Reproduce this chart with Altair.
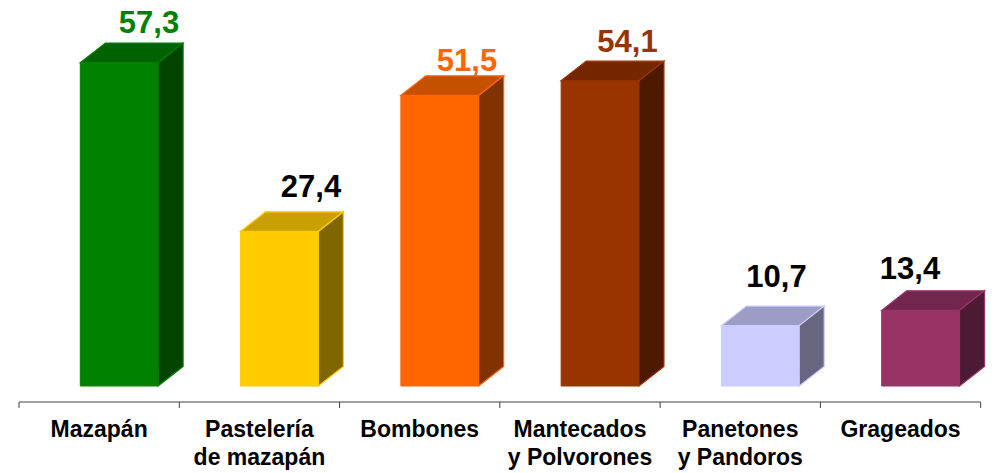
import altair as alt
import pandas as pd

# ---------------- data ----------------
categories = ["Mazapán", "Pastelería\nde mazapán", "Bombones",
              "Mantecados\ny Polvorones", "Panetones\ny Pandoros", "Grageados"]
values = [57.3, 27.4, 51.5, 54.1, 10.7, 13.4]
value_labels = ["57,3", "27,4", "51,5", "54,1", "10,7", "13,4"]

front_colors = ["#008000", "#FFCC00", "#FF6600", "#993300", "#CCCCFF", "#993366"]
top_colors = ["#006200", "#C8A000", "#C45000", "#732600", "#9C9CC4", "#73264D"]
side_colors = ["#004400", "#806600", "#803300", "#4D1A00", "#666680", "#4D1A33"]
label_colors = ["#008000", "#000000", "#FF6600", "#993300", "#000000", "#000000"]

# ---------------- layout (pixels) ----------------
W, H = 980, 465
SLOT = 160.28        # px per category slot
X0 = 11.0            # plot-x of first slot boundary
BASE = 378.0         # plot-y of bar base
PXU = 5.642          # px per value unit
FRONT_OFF = 61.3 / SLOT
FRONT_W = 77.8 / SLOT
DX = 25.0 / SLOT
DY = 19.6 / PXU
AXIS_Y = 394         # plot-y of the axis line
TICK_LEN = 6
CAT_Y = 428.5
LABEL_DX_PX = [29.8, 31.5, 27.2, 27.5, 16.2, -10.6]
LABEL_GAP_PX = [10.0, 15.0, 4.6, 9.5, 19.3, 12.0]

n = len(categories)
rows_front, rows_top, rows_side, rows_lab = [], [], [], []
for i in range(n):
    L = i + FRONT_OFF
    R = L + FRONT_W
    v = values[i]
    rows_front.append(dict(cat=i, x=L, x2=R, y=0.0, y2=v, c=front_colors[i]))
    rows_top.append(dict(cat=i, yy=v, xa=L, xb=R, f=top_colors[i], s=front_colors[i]))
    rows_top.append(dict(cat=i, yy=v + DY, xa=L + DX, xb=R + DX, f=top_colors[i], s=front_colors[i]))
    rows_side.append(dict(cat=i, xx=R, ya=0.0, yb=v, f=side_colors[i], s=front_colors[i]))
    rows_side.append(dict(cat=i, xx=R + DX, ya=DY, yb=v + DY, f=side_colors[i], s=front_colors[i]))
    rows_lab.append(dict(cat=i, lx=(L + R) / 2 + LABEL_DX_PX[i] / SLOT,
                         ly=v + DY + LABEL_GAP_PX[i] / PXU,
                         t=value_labels[i], c=label_colors[i]))

df_front = pd.DataFrame(rows_front)
df_top = pd.DataFrame(rows_top)
df_side = pd.DataFrame(rows_side)
df_lab = pd.DataFrame(rows_lab)
df_cat = pd.DataFrame(dict(cx=[i + 0.5 for i in range(n)], t=categories))
df_ticks = pd.DataFrame(dict(bx=[float(i) for i in range(n + 1)]))

xs = alt.Scale(domain=[-X0 / SLOT, (W - X0) / SLOT], nice=False, zero=False)
ys = alt.Scale(domain=[(BASE - H) / PXU, BASE / PXU], nice=False, zero=False)

front = alt.Chart(df_front).mark_rect(strokeWidth=1).encode(
    x=alt.X("x:Q", scale=xs, axis=None),
    x2="x2:Q",
    y=alt.Y("y:Q", scale=ys, axis=None),
    y2="y2:Q",
    fill=alt.Fill("c:N", scale=None),
    stroke=alt.Stroke("c:N", scale=None),
)

top = alt.Chart(df_top).mark_area(orient="horizontal", strokeWidth=1.2).encode(
    y=alt.Y("yy:Q", scale=ys, axis=None),
    x=alt.X("xa:Q", scale=xs, axis=None),
    x2="xb:Q",
    detail="cat:N",
    fill=alt.Fill("f:N", scale=None),
    stroke=alt.Stroke("s:N", scale=None),
)

side = alt.Chart(df_side).mark_area(orient="vertical", strokeWidth=1.2).encode(
    x=alt.X("xx:Q", scale=xs, axis=None),
    y=alt.Y("ya:Q", scale=ys, axis=None),
    y2="yb:Q",
    detail="cat:N",
    fill=alt.Fill("f:N", scale=None),
    stroke=alt.Stroke("s:N", scale=None),
)

labels = alt.Chart(df_lab).mark_text(
    font="Liberation Sans", fontSize=31, fontWeight="bold",
    align="center", baseline="alphabetic"
).encode(
    x=alt.X("lx:Q", scale=xs, axis=None),
    y=alt.Y("ly:Q", scale=ys, axis=None),
    text="t:N",
    color=alt.Color("c:N", scale=None),
)

axis_line = alt.Chart(df_ticks).mark_rule(color="#404040", strokeWidth=1).encode(
    x=alt.X("min(bx):Q", scale=xs, axis=None),
    x2="max(bx):Q",
    y=alt.value(AXIS_Y),
)

ticks = alt.Chart(df_ticks).mark_rule(color="#404040", strokeWidth=1).encode(
    x=alt.X("bx:Q", scale=xs, axis=None),
    y=alt.value(AXIS_Y),
    y2=alt.value(AXIS_Y + TICK_LEN),
)

cats = alt.Chart(df_cat).mark_text(
    font="Liberation Sans", fontSize=23, fontWeight="bold",
    align="center", baseline="alphabetic", lineBreak="\n", lineHeight=28.5,
    color="#000000"
).encode(
    x=alt.X("cx:Q", scale=xs, axis=None),
    y=alt.value(CAT_Y),
    text="t:N",
)

chart = alt.layer(front, top, side, labels, axis_line, ticks, cats).properties(
    width=W, height=H,
    autosize=alt.AutoSizeParams(type="none"),
    padding=0,
).configure_view(stroke=None)

chart.save("out.html", embed_options={"renderer": "svg", "actions": False})
